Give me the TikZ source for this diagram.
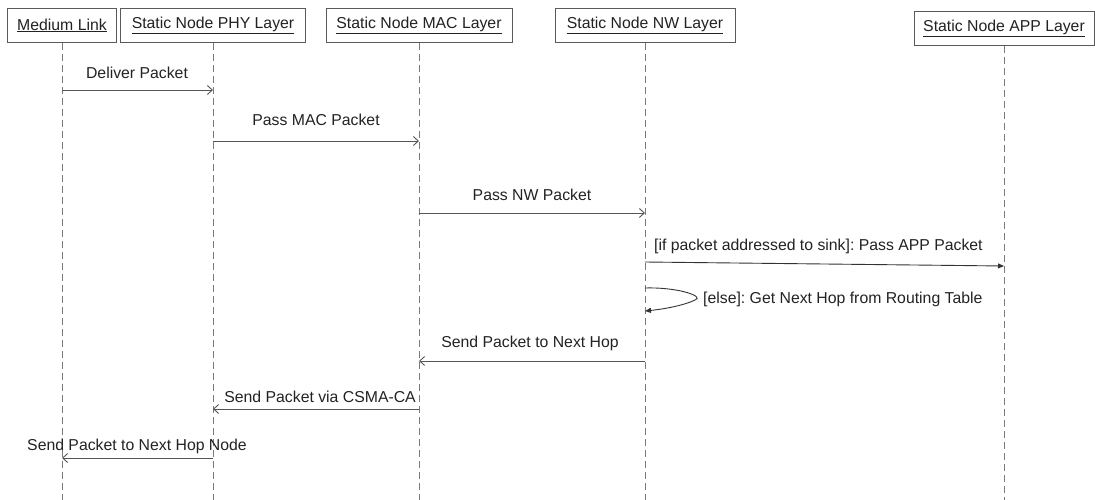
\documentclass[tikz,border=0pt]{standalone}
\usepackage{fontspec}
\setmainfont{Liberation Sans}
\usetikzlibrary{arrows.meta}
\definecolor{boxline}{HTML}{5A5A5A}
\definecolor{lifegray}{HTML}{7A7A7A}
\definecolor{msggray}{HTML}{555555}
\definecolor{txt}{HTML}{222222}
\tikzset{
  lifebox/.style={draw=boxline, line width=1pt, fill=white, minimum height=34pt, inner xsep=6pt, text=txt, font=\fontsize{15.8}{18}\selectfont, anchor=north},
  lifeline/.style={draw=lifegray, line width=1pt, dash pattern=on 7pt off 4pt},
  msg/.style={draw=msggray, line width=0.9pt, -{Straight Barb[length=5pt,width=9pt]}},
  msgfilled/.style={draw=black!80, line width=0.9pt, -{Triangle[length=6pt,width=5pt]}},
  lbl/.style={text=txt, font=\fontsize{15.8}{18}\selectfont, inner sep=0pt}
}
\begin{document}
\frenchspacing
\begin{tikzpicture}[x=1pt,y=-1pt]
\useasboundingbox (0,0) rectangle (1095,500);
% lifeline heads
\node[lifebox, minimum width=109pt] (ml)  at (62,8)   {\underline{Medium Link}};
\node[lifebox, minimum width=185pt] (phy) at (213,8)  {\underline{Static Node PHY Layer}};
\node[lifebox, minimum width=186pt] (mac) at (419,8)  {\underline{Static Node MAC Layer}};
\node[lifebox, minimum width=180pt] (nw)  at (645,8)  {\underline{Static Node NW Layer}};
\node[lifebox, minimum width=180pt] (app) at (1004,11) {\underline{Static Node APP Layer}};
% lifeline ends
\coordinate (mlE)  at (62,500);
\coordinate (phyE) at (213,500);
\coordinate (macE) at (419,500);
\coordinate (nwE)  at (645,500);
\coordinate (appE) at (1004,500);
\draw[lifeline] (ml.south)  -- (mlE);
\draw[lifeline] (phy.south) -- (phyE);
\draw[lifeline] (mac.south) -- (macE);
\draw[lifeline] (nw.south)  -- (nwE);
\draw[lifeline] (app.south) -- (appE);
% message anchor points
\coordinate (m1a) at (62,90);   \coordinate (m1b) at (213,90);
\coordinate (m2a) at (213,141); \coordinate (m2b) at (419,141);
\coordinate (m3a) at (419,213); \coordinate (m3b) at (645,213);
\coordinate (m4a) at (645,262); \coordinate (m4b) at (1004,266);
\coordinate (m5a) at (645,288); \coordinate (m5b) at (645,311);
\coordinate (m6a) at (645,361); \coordinate (m6b) at (419,361);
\coordinate (m7a) at (419,409); \coordinate (m7b) at (213,409);
\coordinate (m8a) at (213,458); \coordinate (m8b) at (62,458);
% messages
\draw[msg] (m1a) -- (m1b);
\node[lbl] (l1) at (137,73) {Deliver Packet};
\draw[msg] (m2a) -- (m2b);
\node[lbl] (l2) at (316,120) {Pass MAC Packet};
\draw[msg] (m3a) -- (m3b);
\node[lbl] (l3) at (532,195) {Pass NW Packet};
\draw[msgfilled] (m4a) -- (m4b);
\node[lbl, anchor=west] (l4) at (654,246) {[if packet addressed to sink]: Pass APP Packet};
\draw[msgfilled] (m5a) .. controls (680,287) and (705,297) .. (695,300) .. controls (685,305) and (665,309) .. (m5b);
\node[lbl, anchor=west] (l5) at (703,299) {[else]: Get Next Hop from Routing Table};
\draw[msg] (m6a) -- (m6b);
\node[lbl] (l6) at (530,343) {Send Packet to Next Hop};
\draw[msg] (m7a) -- (m7b);
\node[lbl, anchor=east] (l7) at (416,397) {Send Packet via CSMA-CA};
\draw[msg] (m8a) -- (m8b);
\node[lbl] (l8) at (137,446) {Send Packet to Next Hop Node};
\end{tikzpicture}
\end{document}
